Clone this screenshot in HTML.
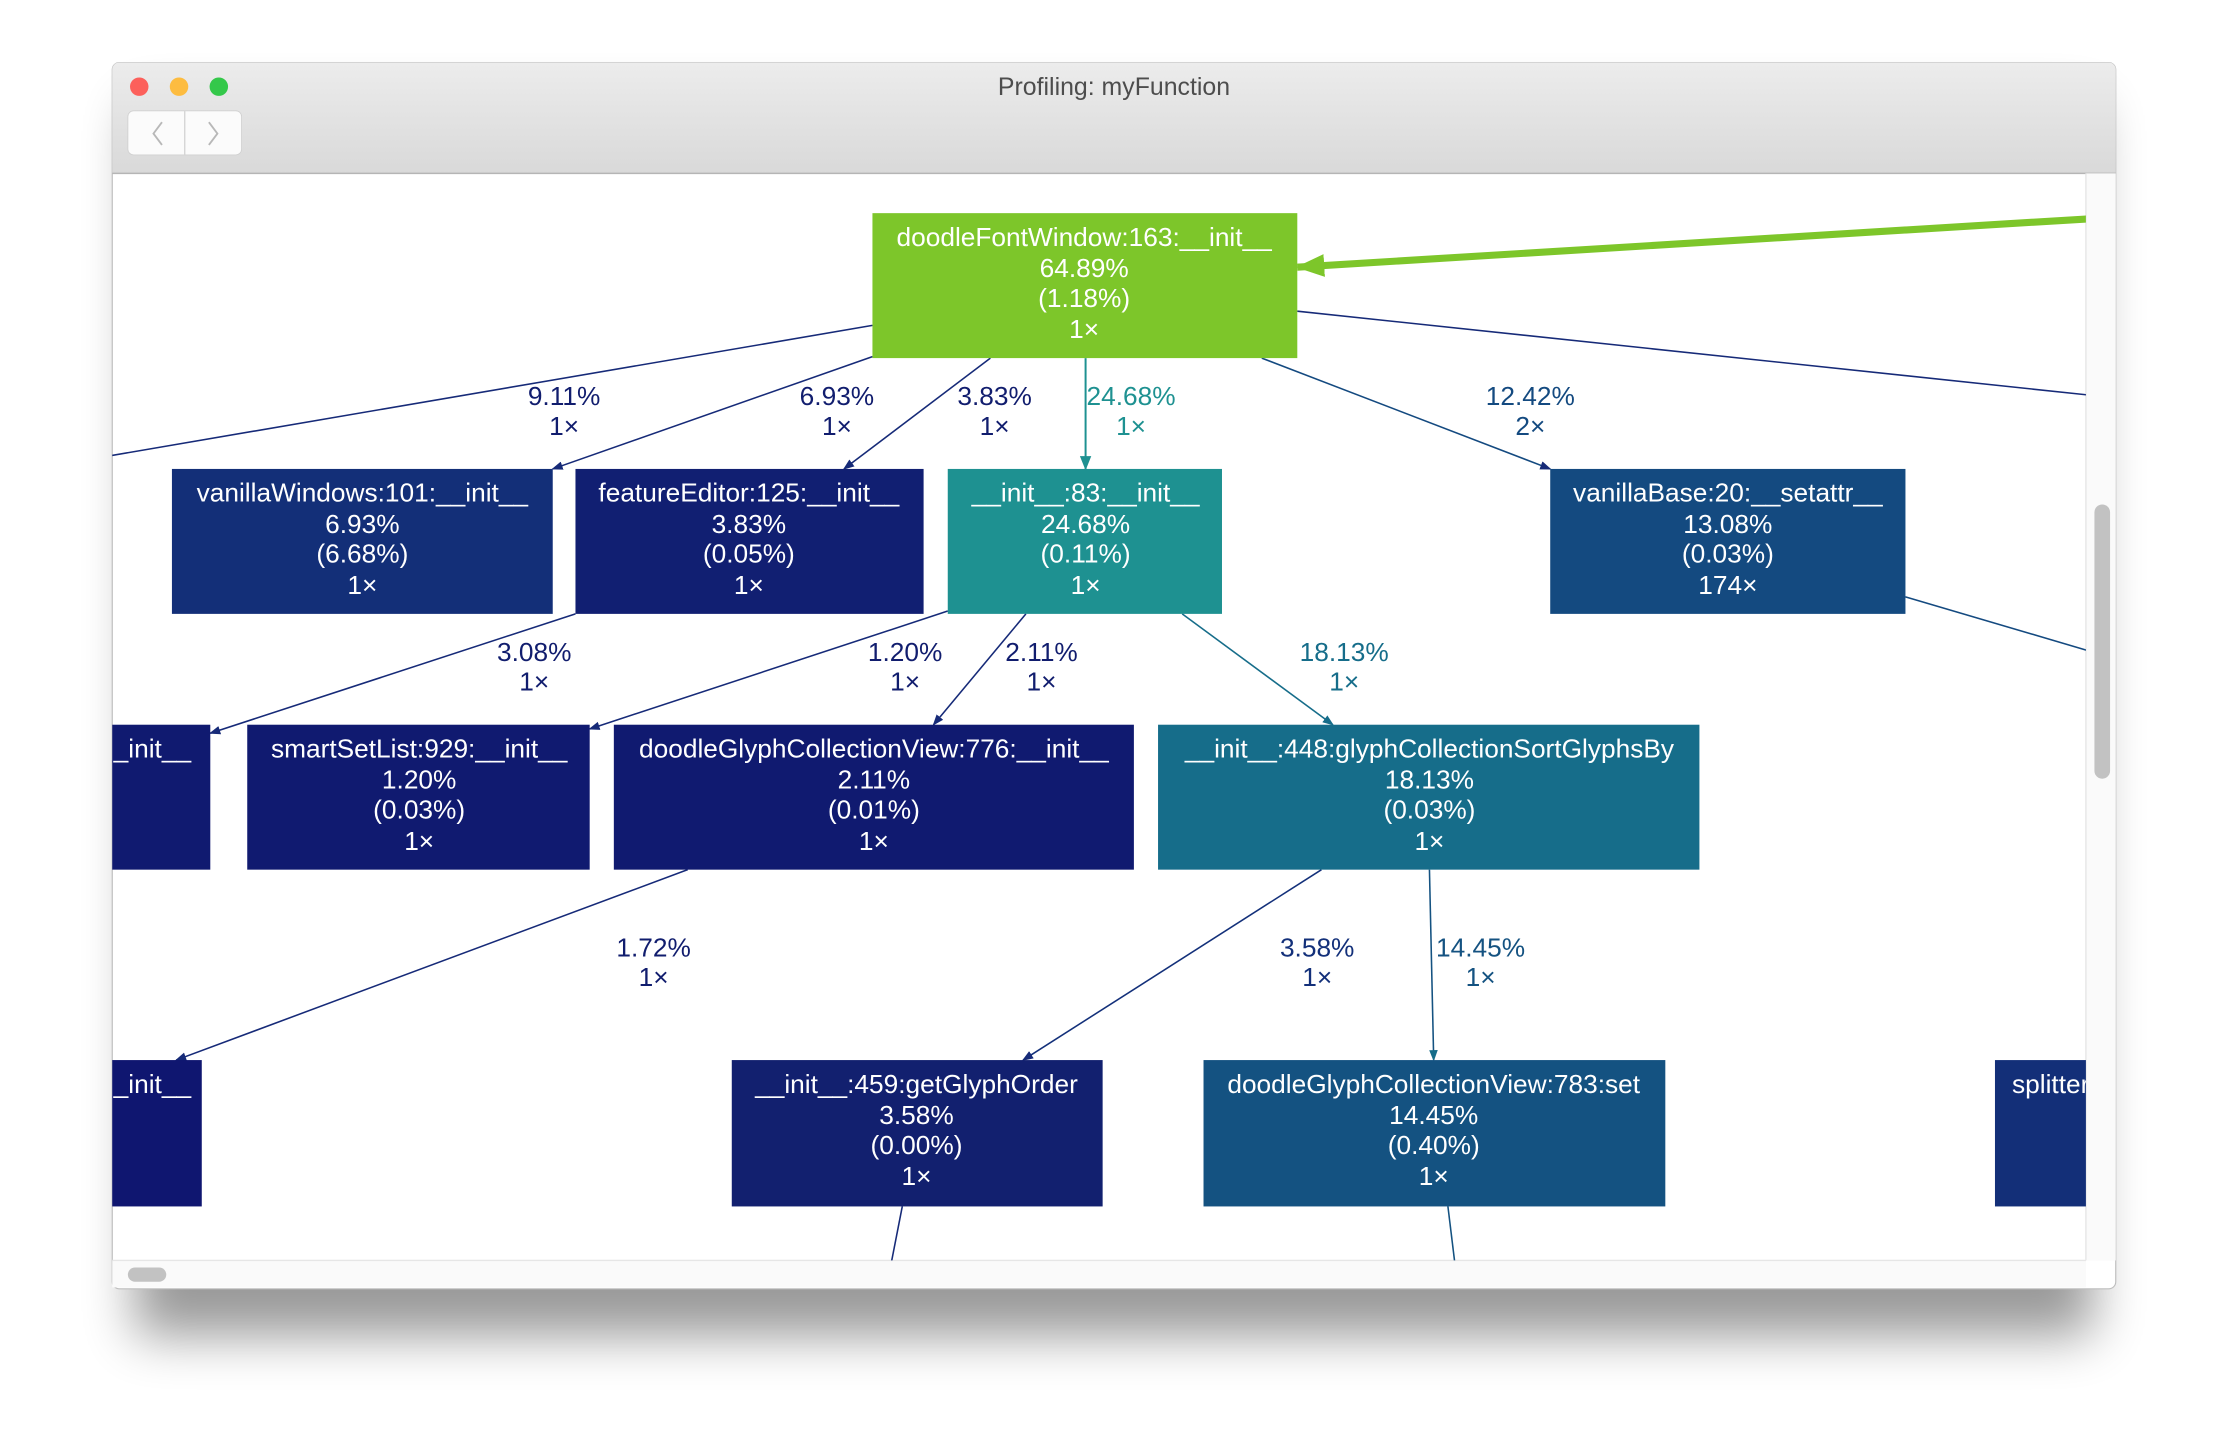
<!DOCTYPE html>
<html><head><meta charset="utf-8"><style>
html,body{margin:0;padding:0;background:#fff;}
svg{display:block;}
text{font-family:"Liberation Sans",Arial,sans-serif;}
</style></head><body>
<svg width="2228" height="1450" viewBox="0 0 1568 1020.4" preserveAspectRatio="none">
<defs>
<filter id="sh" x="-20%" y="-20%" width="140%" height="150%"><feGaussianBlur stdDeviation="18"/></filter>
<linearGradient id="tb" x1="0" y1="0" x2="0" y2="1"><stop offset="0" stop-color="#ececec"/><stop offset="1" stop-color="#d9d9d9"/></linearGradient>
<clipPath id="cp"><rect x="79" y="122" width="1389" height="765"/></clipPath>
<marker id="an" markerWidth="8" markerHeight="8" refX="7" refY="4" orient="auto" markerUnits="userSpaceOnUse"><path d="M0,1 L8,4 L0,7Z" fill="#162a78"/></marker>
<marker id="at" markerWidth="10" markerHeight="10" refX="9" refY="5" orient="auto" markerUnits="userSpaceOnUse"><path d="M0,1 L10,5 L0,9Z" fill="#1e9191"/></marker>
<marker id="ab" markerWidth="8" markerHeight="8" refX="7" refY="4" orient="auto" markerUnits="userSpaceOnUse"><path d="M0,1 L8,4 L0,7Z" fill="#166d8a"/></marker>
<marker id="ag" markerWidth="20" markerHeight="20" refX="19" refY="10" orient="auto" markerUnits="userSpaceOnUse"><path d="M0,2 L20,10 L0,18Z" fill="#7dc62a"/></marker>
</defs>
<rect x="95" y="75" width="1378" height="865" fill="#000" opacity="0.4" filter="url(#sh)"/>
<g>
<rect x="79" y="44" width="1410" height="863" rx="5" fill="#fff" stroke="#bdbdbd" stroke-width="0.8"/>
<path d="M79,49 a5,5 0 0 1 5,-5 H1484 a5,5 0 0 1 5,5 V122 H79Z" fill="url(#tb)"/>
<line x1="79" y1="122" x2="1489" y2="122" stroke="#b5b5b5"/>
<circle cx="98" cy="61" r="6.5" fill="#fc605b"/>
<circle cx="126" cy="61" r="6.5" fill="#fdbc40"/>
<circle cx="154" cy="61" r="6.5" fill="#34c84a"/>
<text x="784" y="67" font-size="17.5" fill="#4d4d4d" text-anchor="middle">Profiling: myFunction</text>
<rect x="90" y="78" width="80" height="31" rx="4" fill="#fbfbfb" stroke="#d0d0d0" stroke-width="0.6"/>
<line x1="130" y1="78" x2="130" y2="109" stroke="#d6d6d6"/>
<path d="M114,86 L108,94 L114,102" fill="none" stroke="#b8b8b8" stroke-width="1.3"/>
<path d="M147,86 L153,94 L147,102" fill="none" stroke="#b8b8b8" stroke-width="1.3"/>
<rect x="1468" y="122" width="21" height="765" fill="#fafafa"/>
<line x1="1468" y1="122" x2="1468" y2="887" stroke="#e6e6e6"/>
<rect x="1474" y="355" width="11" height="193" rx="5.5" fill="#c2c2c2"/>
<rect x="79" y="887" width="1389" height="19" fill="#fafafa"/>
<line x1="79" y1="887" x2="1468" y2="887" stroke="#e6e6e6"/>
<rect x="90" y="892" width="27" height="10" rx="5" fill="#c2c2c2"/>
</g>
<g clip-path="url(#cp)">
<g fill="none" stroke="#162a78" stroke-width="1.1">
<line x1="614" y1="229" x2="70" y2="322"/>
<line x1="614" y1="251" x2="389" y2="330" marker-end="url(#an)"/>
<line x1="697" y1="252" x2="594" y2="330" marker-end="url(#an)"/>
<line x1="888" y1="252" x2="1091" y2="330" stroke="#144a80" marker-end="url(#an)"/>
<line x1="913" y1="219" x2="1470" y2="278"/>
<line x1="1341" y1="420" x2="1470" y2="458" stroke="#144a80"/>
<line x1="405" y1="432" x2="148" y2="516" marker-end="url(#an)"/>
<line x1="667" y1="430" x2="415" y2="513" marker-end="url(#an)"/>
<line x1="722" y1="432" x2="657" y2="510" marker-end="url(#an)"/>
<line x1="832" y1="432" x2="938" y2="510" stroke="#166d8a" marker-end="url(#ab)"/>
<line x1="484" y1="612" x2="124" y2="746" marker-end="url(#an)"/>
<line x1="930" y1="612" x2="720" y2="746" stroke="#13307a" marker-end="url(#an)"/>
<line x1="1006" y1="612" x2="1009" y2="746" stroke="#145281" marker-end="url(#ab)"/>
<line x1="635" y1="849" x2="627" y2="890"/>
<line x1="1019" y1="849" x2="1024" y2="890" stroke="#145281"/>
<line x1="764" y1="252" x2="764" y2="330" stroke="#1e9191" stroke-width="1.4" marker-end="url(#at)"/>
<line x1="1470" y1="154" x2="913" y2="188" stroke="#7dc62a" stroke-width="5" marker-end="url(#ag)"/>
</g>
<g font-size="18.5" text-anchor="middle" fill="#111d6e">
<text x="397" y="285">9.11%</text><text x="397" y="306">1×</text>
<text x="589" y="285">6.93%</text><text x="589" y="306">1×</text>
<text x="700" y="285">3.83%</text><text x="700" y="306">1×</text>
<text x="796" y="285" fill="#1e9191">24.68%</text><text x="796" y="306" fill="#1e9191">1×</text>
<text x="1077" y="285" fill="#144a80">12.42%</text><text x="1077" y="306" fill="#144a80">2×</text>
<text x="376" y="465">3.08%</text><text x="376" y="486">1×</text>
<text x="637" y="465">1.20%</text><text x="637" y="486">1×</text>
<text x="733" y="465">2.11%</text><text x="733" y="486">1×</text>
<text x="946" y="465" fill="#166d8a">18.13%</text><text x="946" y="486" fill="#166d8a">1×</text>
<text x="460" y="673">1.72%</text><text x="460" y="694">1×</text>
<text x="927" y="673" fill="#13307a">3.58%</text><text x="927" y="694" fill="#13307a">1×</text>
<text x="1042" y="673" fill="#145281">14.45%</text><text x="1042" y="694" fill="#145281">1×</text>
</g>
<g font-size="18.5" fill="#fff" text-anchor="middle">
<g><rect x="614" y="150" width="299" height="102" fill="#7dc62a"/><text x="763" y="173">doodleFontWindow:163:__init__</text><text x="763" y="195">64.89%</text><text x="763" y="216">(1.18%)</text><text x="763" y="238">1×</text></g>
<g><rect x="121" y="330" width="268" height="102" fill="#132f78"/><text x="255" y="353">vanillaWindows:101:__init__</text><text x="255" y="375">6.93%</text><text x="255" y="396">(6.68%)</text><text x="255" y="418">1×</text></g>
<g><rect x="405" y="330" width="245" height="102" fill="#111f72"/><text x="527" y="353">featureEditor:125:__init__</text><text x="527" y="375">3.83%</text><text x="527" y="396">(0.05%)</text><text x="527" y="418">1×</text></g>
<g><rect x="667" y="330" width="193" height="102" fill="#1e9191"/><text x="764" y="353">__init__:83:__init__</text><text x="764" y="375">24.68%</text><text x="764" y="396">(0.11%)</text><text x="764" y="418">1×</text></g>
<g><rect x="1091" y="330" width="250" height="102" fill="#144a80"/><text x="1216" y="353">vanillaBase:20:__setattr__</text><text x="1216" y="375">13.08%</text><text x="1216" y="396">(0.03%)</text><text x="1216" y="418">174×</text></g>
<g><rect x="60" y="510" width="88" height="102" fill="#101a70"/><text x="80" y="533" text-anchor="start">_init__</text></g>
<g><rect x="174" y="510" width="241" height="102" fill="#101a70"/><text x="295" y="533">smartSetList:929:__init__</text><text x="295" y="555">1.20%</text><text x="295" y="576">(0.03%)</text><text x="295" y="598">1×</text></g>
<g><rect x="432" y="510" width="366" height="102" fill="#101a70"/><text x="615" y="533">doodleGlyphCollectionView:776:__init__</text><text x="615" y="555">2.11%</text><text x="615" y="576">(0.01%)</text><text x="615" y="598">1×</text></g>
<g><rect x="815" y="510" width="381" height="102" fill="#166d8a"/><text x="1006" y="533">__init__:448:glyphCollectionSortGlyphsBy</text><text x="1006" y="555">18.13%</text><text x="1006" y="576">(0.03%)</text><text x="1006" y="598">1×</text></g>
<g><rect x="60" y="746" width="82" height="103" fill="#0f1670"/><text x="80" y="769" text-anchor="start">_init__</text></g>
<g><rect x="515" y="746" width="261" height="103" fill="#12206f"/><text x="645" y="769">__init__:459:getGlyphOrder</text><text x="645" y="791">3.58%</text><text x="645" y="812">(0.00%)</text><text x="645" y="834">1×</text></g>
<g><rect x="847" y="746" width="325" height="103" fill="#145281"/><text x="1009" y="769">doodleGlyphCollectionView:783:set</text><text x="1009" y="791">14.45%</text><text x="1009" y="812">(0.40%)</text><text x="1009" y="834">1×</text></g>
<g><rect x="1404" y="746" width="80" height="103" fill="#132f78"/><text x="1416" y="769" text-anchor="start">splitter</text></g>
</g>
</g>
</svg>
</body></html>
